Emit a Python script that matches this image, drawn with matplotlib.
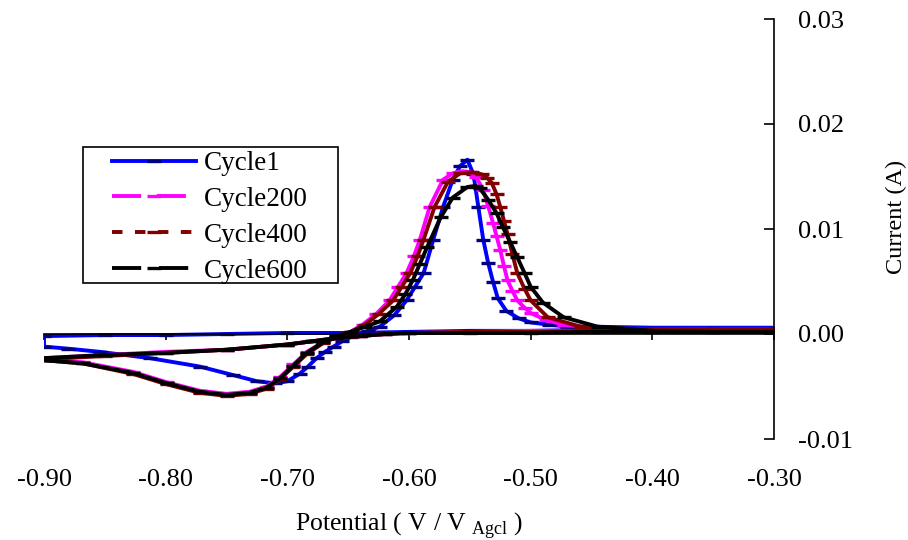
#Cyclic voltammograms for several cycles
#Current vs potential, y axis drawn on the right side

import numpy as np
import matplotlib.pyplot as plt
from matplotlib.lines import Line2D
from matplotlib.patches import Rectangle

plt.rcParams['font.family'] = ['Liberation Serif', 'DejaVu Serif']
plt.rcParams['mathtext.fontset'] = 'custom'
plt.rcParams['mathtext.rm'] = 'Liberation Serif'
plt.rcParams['axes.unicode_minus'] = False

#Cathodic sweep potentials (-0.30 -> -0.90), shared by cycles 200, 400, 600
v_cath = [-0.30, -0.35, -0.40, -0.45, -0.50, -0.55, -0.60, -0.62, -0.64, -0.66,
          -0.68, -0.70, -0.75, -0.80, -0.85, -0.90]

#Cycle 1
v1_cath = [-0.30, -0.35, -0.40, -0.45, -0.50, -0.55, -0.60, -0.65, -0.70, -0.75,
           -0.80, -0.85, -0.90]
i1_cath = [0.0005, 0.0005, 0.0004, 0.0004, 0.0003, 0.0003, 0.0002, 0.0001, 0.0001, 0.0000,
           -0.0001, -0.0001, -0.0002]
v1_anod = [-0.90, -0.88, -0.854, -0.813, -0.772, -0.745, -0.725, -0.710, -0.700, -0.690,
           -0.683, -0.676, -0.669, -0.662, -0.655, -0.648, -0.641, -0.634, -0.624, -0.612,
           -0.602, -0.595, -0.588, -0.580, -0.572, -0.564, -0.558, -0.552, -0.547, -0.543,
           -0.539, -0.535, -0.531, -0.527, -0.520, -0.510, -0.500, -0.485, -0.470, -0.45,
           -0.40, -0.35, -0.30]
i1_anod = [-0.0012, -0.0014, -0.0017, -0.0023, -0.0031, -0.0039, -0.0045, -0.0047, -0.0045, -0.0038,
           -0.0031, -0.0023, -0.0017, -0.0012, -0.0007, -0.0003, 0.0000, 0.0003, 0.0007, 0.0018,
           0.0032, 0.0045, 0.0058, 0.0090, 0.0121, 0.0147, 0.0160, 0.0166, 0.0152, 0.0121,
           0.0090, 0.0068, 0.0050, 0.0034, 0.0022, 0.0015, 0.0011, 0.0009, 0.0007, 0.0007,
           0.0006, 0.0006, 0.0006]

#Cycle 200
i200_cath = [0.0004, 0.0004, 0.0004, 0.0003, 0.0003, 0.0002, 0.0001, 0.0000, -0.0002, -0.0004,
             -0.0007, -0.0010, -0.0015, -0.0017, -0.0020, -0.0023]
v200_anod = [-0.90, -0.868, -0.827, -0.799, -0.772, -0.750, -0.731, -0.717, -0.706, -0.695,
             -0.684, -0.671, -0.660, -0.648, -0.638, -0.627, -0.616, -0.609, -0.602, -0.596,
             -0.591, -0.583, -0.572, -0.564, -0.556, -0.550, -0.545, -0.539, -0.535, -0.531,
             -0.528, -0.525, -0.522, -0.519, -0.515, -0.511, -0.505, -0.500, -0.487, -0.473,
             -0.445, -0.40, -0.35, -0.30]
i200_anod = [-0.0024, -0.0027, -0.0036, -0.0046, -0.0054, -0.0057, -0.0055, -0.0050, -0.0041, -0.0029,
             -0.0017, -0.0008, -0.0002, 0.0002, 0.0009, 0.0019, 0.0032, 0.0045, 0.0058, 0.0074,
             0.0090, 0.0121, 0.0147, 0.0153, 0.0155, 0.0154, 0.0150, 0.0137, 0.0122, 0.0106,
             0.0093, 0.0080, 0.0065, 0.0051, 0.0041, 0.0032, 0.0025, 0.0020, 0.0013, 0.0009,
             0.0005, 0.0004, 0.0004, 0.0004]

#Cycle 400
i400_cath = [0.0004, 0.0004, 0.0003, 0.0003, 0.0002, 0.0002, 0.0001, 0.0000, -0.0002, -0.0004,
             -0.0007, -0.0010, -0.0015, -0.0018, -0.0021, -0.0024]
v400_anod = [-0.90, -0.868, -0.827, -0.799, -0.772, -0.750, -0.731, -0.717, -0.706, -0.695,
             -0.684, -0.671, -0.660, -0.648, -0.636, -0.625, -0.613, -0.606, -0.599, -0.593,
             -0.588, -0.579, -0.568, -0.558, -0.548, -0.540, -0.536, -0.532, -0.528, -0.525,
             -0.522, -0.519, -0.515, -0.511, -0.505, -0.500, -0.486, -0.459, -0.42, -0.35,
             -0.30]
i400_anod = [-0.0025, -0.0028, -0.0038, -0.0048, -0.0056, -0.0059, -0.0057, -0.0052, -0.0043, -0.0031,
             -0.0019, -0.0009, -0.0003, 0.0002, 0.0009, 0.0019, 0.0032, 0.0045, 0.0058, 0.0074,
             0.0090, 0.0121, 0.0145, 0.0153, 0.0154, 0.0152, 0.0149, 0.0144, 0.0133, 0.0121,
             0.0108, 0.0095, 0.0076, 0.0058, 0.0043, 0.0032, 0.0016, 0.0007, 0.0005, 0.0004,
             0.0004]

#Cycle 600
i600_cath = [0.0002, 0.0002, 0.0002, 0.0002, 0.0001, 0.0001, 0.0001, 0.0000, -0.0002, -0.0004,
             -0.0007, -0.0010, -0.0015, -0.0018, -0.0020, -0.0023]
v600_anod = [-0.90, -0.868, -0.827, -0.799, -0.772, -0.750, -0.731, -0.717, -0.706, -0.695,
             -0.684, -0.671, -0.660, -0.648, -0.636, -0.624, -0.610, -0.603, -0.597, -0.591,
             -0.585, -0.574, -0.564, -0.552, -0.545, -0.542, -0.535, -0.528, -0.523, -0.517,
             -0.511, -0.505, -0.500, -0.490, -0.473, -0.445, -0.40, -0.35, -0.30]
i600_anod = [-0.0025, -0.0028, -0.0037, -0.0047, -0.0055, -0.0058, -0.0056, -0.0051, -0.0042, -0.0030,
             -0.0018, -0.0008, -0.0002, 0.0002, 0.0007, 0.0012, 0.0026, 0.0038, 0.0051, 0.0067,
             0.0083, 0.0111, 0.0130, 0.0140, 0.0141, 0.0139, 0.0128, 0.0115, 0.0102, 0.0088,
             0.0073, 0.0058, 0.0045, 0.0030, 0.0016, 0.0007, 0.0003, 0.0002, 0.0002]

labels = ['Cycle1', 'Cycle200', 'Cycle400', 'Cycle600']
x_ticks = [-0.90, -0.80, -0.70, -0.60, -0.50, -0.40, -0.30]
y_ticks = [-0.01, 0.00, 0.01, 0.02, 0.03]

#Join the two sweeps of each cycle
curves = [
    (v1_cath + v1_anod, i1_cath + i1_anod),
    (v_cath + v200_anod, i200_cath + i200_anod),
    (v_cath + v400_anod, i400_cath + i400_anod),
    (v_cath + v600_anod, i600_cath + i600_anod),
]
line_colors = ['#0000FF', '#FF00FF', '#800000', '#000000']
marker_colors = ['#000080', '#FF00FF', '#800000', '#000000']
dash_styles = ['-', (0, (7.5, 4)), (0, (2.7, 3.2)), (0, (7.5, 4.6))]

fig = plt.figure(figsize=(9.08, 5.4), dpi=100)
ax = fig.add_axes([44/908, 101/540, 730/908, 420/540])

#Draw each cycle; markers mimic the dashes of the original export
for (v, i), lc, mc in zip(curves, line_colors, marker_colors):
    ax.plot(v, i, color=lc, lw=2.8, marker='_', markersize=10,
            markeredgewidth=2.4, markeredgecolor=mc, solid_joinstyle='round')

ax.set_xlim(-0.90, -0.30)
ax.set_ylim(-0.01, 0.03)

#Spines: x axis runs through zero, y axis on the right
ax.spines['top'].set_visible(False)
ax.spines['left'].set_visible(False)
ax.spines['bottom'].set_position(('data', 0))
ax.spines['bottom'].set_linewidth(1.2)
ax.spines['right'].set_linewidth(1.2)

ax.set_xticks(x_ticks)
ax.set_xticklabels(['%.2f' % t for t in x_ticks])
ax.set_yticks(y_ticks)
ax.set_yticklabels(['%.2f' % t for t in y_ticks])
ax.yaxis.tick_right()
ax.tick_params(axis='x', direction='out', length=4, width=1.2, pad=93, labelsize=19)
ax.tick_params(axis='y', direction='in', length=7, width=1.2, pad=17, labelsize=19)

ax.set_xlabel(r'Potential ( V / V$_{\mathregular{\ Agcl}}$ )', fontsize=18.5)
ax.xaxis.set_label_coords(0.5, -0.168)
ax.yaxis.set_label_position('right')
ax.set_ylabel('Current (A)', fontsize=17.5, rotation=90, va='center', ha='center')
ax.yaxis.set_label_coords(1.168, 0.529)

#Legend box and entries
fig.patches.append(Rectangle((83/908, 1 - 283/540), 255/908, 136/540,
                             transform=fig.transFigure, fill=False,
                             edgecolor='black', lw=1.2))
handles = [Line2D([], [], color=lc, lw=2.8, linestyle=ds, marker='_',
                  markersize=10, markeredgewidth=2.4, markeredgecolor=mc)
           for lc, mc, ds in zip(line_colors, marker_colors, dash_styles)]
ax.legend(handles, labels, loc='upper left', bbox_to_anchor=(112/908, 1 - 151/540),
          bbox_transform=fig.transFigure, frameon=False, borderpad=0,
          borderaxespad=0, fontsize=19.5, handlelength=3.1, handletextpad=0.3,
          labelspacing=0.4, numpoints=1)

plt.savefig('out.png', dpi=100)
